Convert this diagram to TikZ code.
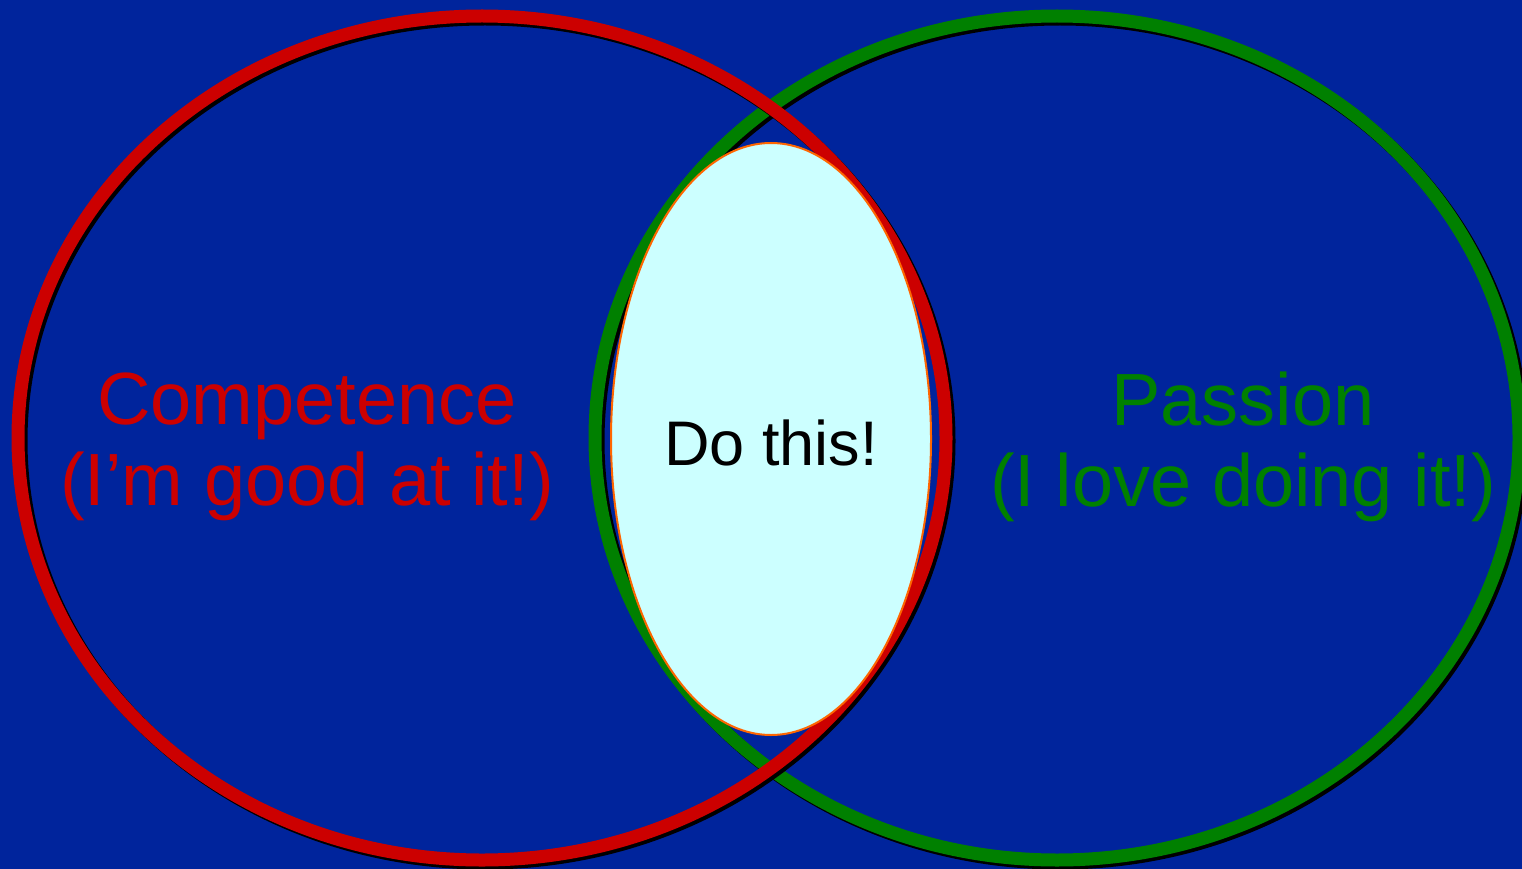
\documentclass[tikz,border=0pt]{standalone}
\usepackage{fontspec}
\setmainfont{Liberation Sans}
\definecolor{bgblue}{RGB}{0,36,156}
\definecolor{ringred}{RGB}{204,0,0}
\definecolor{ringgreen}{RGB}{0,128,0}
\definecolor{coreFill}{RGB}{204,255,255}
\definecolor{coreLine}{RGB}{255,102,0}
\begin{document}
\begin{tikzpicture}[x=1pt,y=-1pt,
  ring/.style={line width=13pt},
  ringshadow/.style={line width=13pt, black},
  label/.style={align=center, font=\fontsize{74}{81}\selectfont, inner sep=0pt}]
\fill[bgblue] (0,0) rectangle (1522,869);
\useasboundingbox (0,0) rectangle (1522,869);
% green ring
\draw[ringshadow] (1060,441) ellipse [x radius=462, y radius=422];
\draw[ring, ringgreen] (1057,438) ellipse [x radius=462, y radius=422];
% red ring
\draw[ringshadow] (485,441) ellipse [x radius=464, y radius=422];
\draw[ring, ringred] (482,438) ellipse [x radius=464, y radius=422];
% core
\draw[fill=coreFill, draw=coreLine, line width=2pt] (771,439) ellipse [x radius=160, y radius=296];
\node[label, text=ringred] (comp) at (307,447) {Competence\\(I’m good at it!)};
\node[label, text=ringgreen] (pass) at (1243,447) {Passion\\(I love doing it!)};
\node[inner sep=0pt, font=\fontsize{63}{70}\selectfont, text=black] (do) at (771,443) {Do this!};
\end{tikzpicture}
\end{document}
